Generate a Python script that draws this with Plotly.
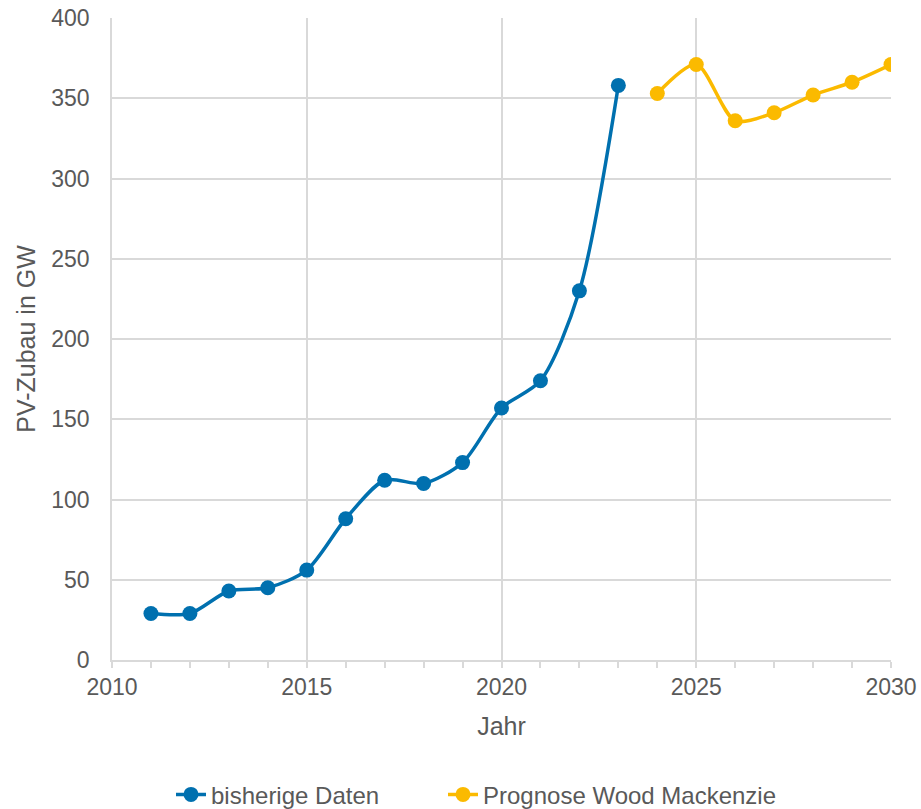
import plotly.graph_objects as go

# Installed PV capacity additions per year (GW)
years_hist = [2011, 2012, 2013, 2014, 2015, 2016, 2017, 2018, 2019, 2020, 2021, 2022, 2023]
gw_hist = [29, 29, 43, 45, 56, 88, 112, 110, 123, 157, 174, 230, 358]

years_fc = [2024, 2025, 2026, 2027, 2028, 2029, 2030]
gw_fc = [353, 371, 336, 341, 352, 360, 371]

name_hist = "bisherige Daten"
name_fc = "Prognose Wood Mackenzie"

BLUE = "#0070AF"
YELLOW = "#FBBA00"
GRID = "#D9D9D9"
TEXT = "#595959"
FONT = "Liberation Sans, Arial, sans-serif"
FS_TICK = 23
FS_TITLE = 25
FS_LEG = 24

fig = go.Figure()
fig.add_trace(go.Scatter(
    x=years_hist, y=gw_hist, name=name_hist, mode="lines+markers",
    line=dict(color=BLUE, width=3.5, shape="spline", smoothing=0.8),
    marker=dict(color=BLUE, size=15), legend="legend",
))
fig.add_trace(go.Scatter(
    x=years_fc, y=gw_fc, name=name_fc, mode="lines+markers",
    line=dict(color=YELLOW, width=3.5, shape="spline", smoothing=0.8),
    marker=dict(color=YELLOW, size=15), legend="legend2",
))

leg_common = dict(orientation="h", yanchor="middle", y=-0.21, xanchor="left",
                  font=dict(size=FS_LEG, color=TEXT), bgcolor="rgba(0,0,0,0)")

fig.update_layout(
    width=921, height=809,
    margin=dict(l=112, r=30, t=18, b=149, autoexpand=False),
    plot_bgcolor="white", paper_bgcolor="white",
    font=dict(family=FONT, color=TEXT, size=FS_TICK),
    showlegend=True,
    legend=dict(x=(171 - 112) / 779, **leg_common),
    legend2=dict(x=(443 - 112) / 779, **leg_common),
)
fig.update_xaxes(
    range=[2010, 2030], dtick=5, tick0=2010,
    showgrid=True, gridcolor=GRID, gridwidth=1.5,
    showline=True, linecolor=GRID, linewidth=1.5,
    ticks="outside", ticklen=6, tickcolor=GRID, tickwidth=1.5,
    minor=dict(dtick=1, ticks="outside", ticklen=6, tickcolor=GRID, tickwidth=1.5, showgrid=False),
    zeroline=False, automargin=False,
    title=dict(text="Jahr", font=dict(size=FS_TITLE, color=TEXT), standoff=18),
    tickfont=dict(size=FS_TICK, color=TEXT),
)
fig.update_yaxes(
    range=[0, 400], dtick=50,
    showgrid=True, gridcolor=GRID, gridwidth=1.5,
    showline=True, linecolor=GRID, linewidth=1.5,
    zeroline=False, ticks="", automargin=False, ticklabelstandoff=16,
    title=dict(text="PV-Zubau in GW", font=dict(size=FS_TITLE, color=TEXT), standoff=9),
    tickfont=dict(size=FS_TICK, color=TEXT),
)

fig.write_html("out.html")
